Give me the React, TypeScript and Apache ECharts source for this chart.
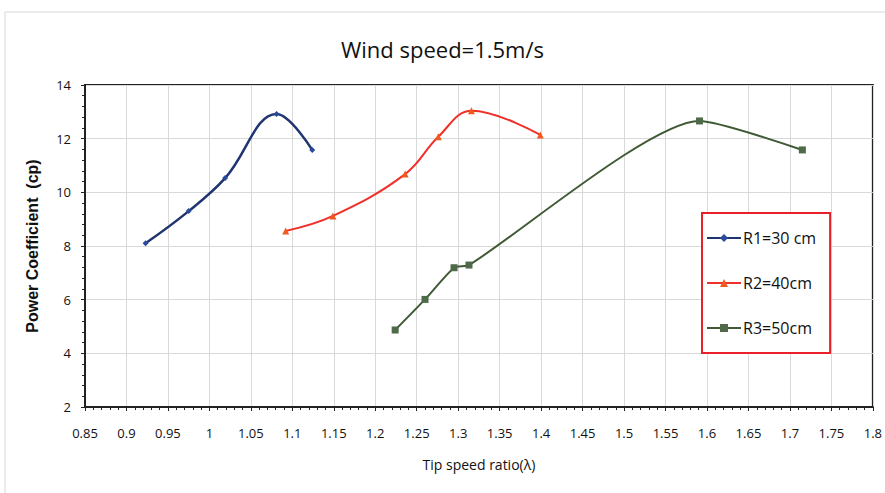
import React, { useEffect, useRef } from "react";
import * as echarts from "echarts";

const r1X = [0.923, 0.975, 1.019, 1.081, 1.124];
const r1Y = [8.1, 9.3, 10.53, 12.92, 11.58];
const r2X = [1.092, 1.149, 1.236, 1.276, 1.316, 1.399];
const r2Y = [8.56, 9.12, 10.68, 12.07, 13.04, 12.14];
const r3X = [1.224, 1.26, 1.295, 1.313, 1.591, 1.715];
const r3Y = [4.87, 6.01, 7.19, 7.29, 12.66, 11.58];
const seriesNames = ["R1=30 cm", "R2=40cm", "R3=50cm"];

const zip = (xs: number[], ys: number[]) => xs.map((x, i) => [x, ys[i]]);

const FONT = "'Open Sans', Arial, sans-serif";

export default function App() {
  const ref = useRef<HTMLDivElement>(null);
  useEffect(() => {
    if (!ref.current) return;
    const chart = echarts.init(ref.current, undefined, { renderer: "svg" });
    chart.setOption({
      animation: false,
      backgroundColor: "#fff",
      title: {
        text: "Wind speed=1.5m/s",
        left: "center",
        top: 33,
        textStyle: { fontFamily: FONT, fontSize: 22, fontWeight: 500, color: "#111" },
      },
      graphic: [
        {
          type: "rect",
          shape: { x: 5, y: 12, width: 890, height: 500 },
          style: { fill: "none", stroke: "#d8d8d8", lineWidth: 1 },
          silent: true,
        },
      ],
      grid: {
        left: 85,
        right: 12,
        top: 85,
        bottom: 86,
        show: true,
        borderColor: "#222",
        borderWidth: 2,
      },
      legend: {
        orient: "vertical",
        left: 702,
        top: 213,
        padding: [17, 14, 17, 4],
        itemGap: 29,
        itemWidth: 34,
        itemHeight: 10,
        borderColor: "#e8202a",
        borderWidth: 2,
        backgroundColor: "#fff",
        textStyle: { fontFamily: FONT, fontSize: 16, color: "#111", padding: [0, 0, 0, -3] },
        data: seriesNames,
      },
      xAxis: {
        type: "value",
        min: 0.85,
        max: 1.8,
        interval: 0.05,
        name: "Tip speed ratio(λ)",
        nameLocation: "middle",
        nameGap: 50,
        nameTextStyle: { fontFamily: FONT, fontSize: 14, color: "#111" },
        axisLine: { show: true, lineStyle: { color: "#222", width: 2 } },
        axisTick: { show: true, length: 4, lineStyle: { color: "#222" } },
        minorTick: { show: true, splitNumber: 5, length: 3, lineStyle: { color: "#222" } },
        splitLine: { show: true, lineStyle: { color: "#d9d9d9" } },
        axisLabel: {
          fontFamily: FONT,
          fontSize: 13,
          color: "#111",
          margin: 19,
          formatter: (v: number) => String(parseFloat(v.toFixed(2))),
        },
      },
      yAxis: {
        type: "value",
        min: 2,
        max: 14,
        interval: 2,
        name: "Power Coefficient  (cp)",
        nameLocation: "middle",
        nameGap: 45,
        nameTextStyle: { fontFamily: "Arial, 'Liberation Sans', sans-serif", fontSize: 16, fontWeight: "bold", color: "#111" },
        axisLine: { show: true, lineStyle: { color: "#222", width: 2 } },
        axisTick: { show: true, length: 4, lineStyle: { color: "#222" } },
        minorTick: { show: true, splitNumber: 5, length: 3, lineStyle: { color: "#222" } },
        splitLine: { show: true, lineStyle: { color: "#d9d9d9" } },
        axisLabel: { fontFamily: FONT, fontSize: 13, color: "#111", margin: 14 },
      },
      series: [
        {
          name: seriesNames[0],
          type: "line",
          smooth: 0.4,
          data: zip(r1X, r1Y),
          symbol: "diamond",
          symbolSize: 6,
          lineStyle: { color: "#1f3470", width: 2.5 },
          itemStyle: { color: "#2a4a9a" },
        },
        {
          name: seriesNames[1],
          type: "line",
          smooth: 0.4,
          data: zip(r2X, r2Y),
          symbol: "triangle",
          symbolSize: 7,
          lineStyle: { color: "#f0302a", width: 2 },
          itemStyle: { color: "#f05a20" },
        },
        {
          name: seriesNames[2],
          type: "line",
          smooth: 0.2,
          data: zip(r3X, r3Y),
          symbol: "rect",
          symbolSize: 7,
          lineStyle: { color: "#3f5a35", width: 2 },
          itemStyle: { color: "#4f6a48" },
        },
      ],
    });
    return () => chart.dispose();
  }, []);
  return (
    <div
      ref={ref}
      style={{ position: "fixed", left: 0, top: 0, width: 885, height: 493 }}
    />
  );
}
